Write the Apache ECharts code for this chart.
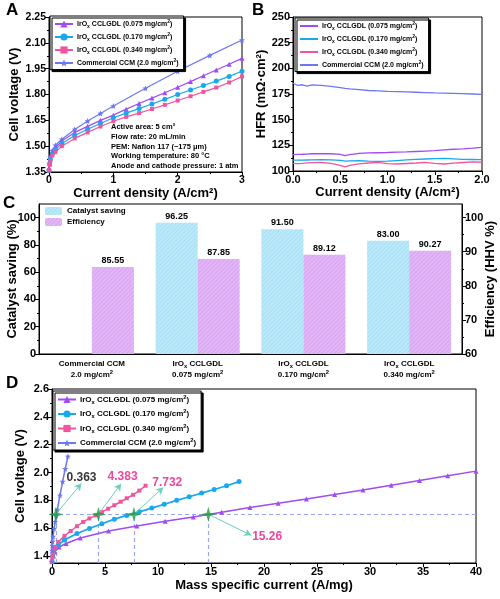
<!DOCTYPE html>
<html><head><meta charset="utf-8">
<script src="https://cdn.jsdelivr.net/npm/echarts@6/dist/echarts.min.js"></script>
<style>html,body{margin:0;padding:0;background:#fff}#c{width:500px;height:599px}</style>
</head><body><div id="c"></div>
<script>
// ---------- DATA ----------
// Panel A / D: polarization curves
const currentDensity = [0,0.01,0.02,0.05,0.1,0.2,0.4,0.6,0.8,1.0,1.2,1.4,1.6,1.8,2.0,2.2,2.4,2.6,2.8,3.0];
const voltage075 = [1.36,1.40,1.43,1.465,1.49,1.53,1.58,1.615,1.65,1.68,1.715,1.748,1.779,1.81,1.842,1.875,1.909,1.942,1.976,2.01];
const voltage170 = [1.36,1.40,1.425,1.455,1.48,1.515,1.562,1.598,1.632,1.665,1.692,1.718,1.745,1.772,1.80,1.826,1.852,1.878,1.905,1.935];
const voltage340 = [1.36,1.39,1.415,1.445,1.465,1.50,1.545,1.58,1.614,1.645,1.67,1.692,1.716,1.74,1.765,1.79,1.815,1.84,1.87,1.905];
const ccmCurrentDensity = [0,0.02,0.05,0.1,0.2,0.4,0.6,0.8,1.0,1.5,2.0,2.5,3.0];
const voltageCCM = [1.36,1.44,1.475,1.505,1.54,1.597,1.646,1.69,1.733,1.836,1.935,2.027,2.116];
const loadings = [0.075, 0.170, 0.340, 2.0];           // mg/cm2
const loadingText = ['0.075', '0.170', '0.340', '2.0'];

// Panel B: HFR
const hfrCurrentDensity = [0,0.05,0.1,0.15,0.2,0.3,0.4,0.5,0.55,0.6,0.7,0.8,0.9,1.0,1.1,1.2,1.3,1.4,1.5,1.6,1.7,1.8,1.9,2.0];
const hfr075 = [116,116.2,116.3,116.5,116.8,117,116.8,116.2,115,116,117.2,117.6,117.8,118,118.3,118.6,119,119.4,119.8,120.5,121.2,121.6,122.2,123];
const hfr170 = [110.5,110.6,110.6,110.7,110.8,111,110.8,110.4,109.6,109.8,110,109.6,109.3,109.6,110.2,110.8,111.3,111.7,112,112.2,111.8,111.4,111.2,111];
const hfr340 = [107.5,107.2,107.5,108,108.2,108.3,107.5,105.5,104,105.5,107,107.8,108.5,107.2,106.8,107.3,107.8,108.5,107.5,106.8,107.6,108.3,108.8,108.5];
const hfrCCM = [185.5,183.3,184,182.6,183.8,183.4,182.5,181.2,180.5,180,179.2,178.4,178,177.6,177.3,177,176.7,176.4,176.1,175.9,175.6,175.3,175,174.7];

// Panel C: bars
const categories = ['Commercial CCM\n2.0 mg/cm²', 'IrOx CCLGDL\n0.075 mg/cm²', 'IrOx CCLGDL\n0.170 mg/cm²', 'IrOx CCLGDL\n0.340 mg/cm²'];
const catalystSaving = [null, 96.25, 91.50, 83.00];
const efficiency = [85.55, 87.85, 89.12, 90.27];

// Panel D: annotations at 1.7 V
const refVoltage = 1.7;
const crossX = [0.363, 4.383, 7.732, 14.75];
const crossText = ['0.363', '4.383', '7.732', '15.26'];
const arrowEnds = [[2.77,1.921],[6.52,1.92],[10.49,1.892],[18.8,1.549]];
const textAnchors = [[2.78,1.962],[6.66,1.97],[10.87,1.928],[20.3,1.542]];

// ---------- STYLE ----------
const FF = '"Liberation Sans", Arial, Helvetica, sans-serif';
const BLK = '#000';
const colors = ['#A04CF0', '#17A8EE', '#F0559E', '#6A79F2'];
const STAR5 = 'path://M0,-10 L2.6,-3.5 L9.5,-3.1 L4.2,1.3 L5.9,8.1 L0,4.3 L-5.9,8.1 L-4.2,1.3 L-9.5,-3.1 L-2.6,-3.5 Z';
const STAR4 = 'path://M0,-10 L2.2,-2.2 L10,0 L2.2,2.2 L0,10 L-2.2,2.2 L-10,0 L-2.2,-2.2 Z';
const symbols = ['triangle', 'circle', 'rect', STAR5];
const annColors = ['#000', '#E8177F', '#E8177F', '#E8177F'];

function axis(o) {
  const base = {
    type: 'value',
    axisLine: {show: true, onZero: false, lineStyle: {color: BLK, width: 1}},
    axisTick: {show: true, length: 4, lineStyle: {color: BLK, width: 1}},
    minorTick: {show: true, splitNumber: 2, length: 2, lineStyle: {color: BLK, width: 1}},
    axisLabel: {color: BLK, fontSize: 11, fontWeight: 'bold', fontFamily: FF, margin: 3},
    splitLine: {show: false},
    nameLocation: 'middle',
    nameMoveOverlap: false,
    nameTextStyle: {color: BLK, fontSize: 13, fontWeight: 'bold', fontFamily: FF}
  };
  for (const k in o) {
    if (base[k] && typeof base[k] === 'object' && !Array.isArray(base[k]) && o[k] && typeof o[k] === 'object' && !Array.isArray(o[k])) base[k] = Object.assign({}, base[k], o[k]);
    else base[k] = o[k];
  }
  return base;
}
function rich(fs) {
  const s = Math.round(fs * 0.72 * 10) / 10;
  return {
    t: {fontSize: fs, fontWeight: 'bold', fontFamily: FF, color: BLK, lineHeight: fs + 3},
    s: {fontSize: s, fontWeight: 'bold', fontFamily: FF, color: BLK, verticalAlign: 'bottom', lineHeight: s},
    p: {fontSize: s, fontWeight: 'bold', fontFamily: FF, color: BLK, verticalAlign: 'top', lineHeight: s}
  };
}
function seriesLabel(i) {
  if (i < 3) return '{t|IrO}{s|x}{t| CCLGDL (' + loadingText[i] + ' mg/cm}{p|2}{t|)}';
  return '{t|Commercial CCM (' + loadingText[i] + ' mg/cm}{p|2}{t|)}';
}
function legendBox(prefix, left, top, fs, ih, gap, noSymbol) {
  return {
    data: [0,1,2,3].map(i => noSymbol ? {name: prefix + i, itemStyle: {opacity: 0}} : prefix + i),
    orient: 'vertical', left: left, top: top,
    itemWidth: 18, itemHeight: ih, itemGap: gap, padding: [3,5,3,4],
    backgroundColor: '#fff', borderColor: BLK, borderWidth: 1, borderRadius: 0,
    shadowColor: BLK, shadowBlur: 0, shadowOffsetX: 2, shadowOffsetY: 2,
    selectedMode: false,
    formatter: n => seriesLabel(+n.slice(1)),
    textStyle: {rich: rich(fs), padding: [0,0,0,-1]}
  };
}

const voltSets = [voltage075, voltage170, voltage340];
const hfrSets = [hfr075, hfr170, hfr340, hfrCCM];

const series = [];
// Panel A
for (let i = 0; i < 4; i++) {
  const xs = i < 3 ? currentDensity : ccmCurrentDensity;
  const ys = i < 3 ? voltSets[i] : voltageCCM;
  series.push({
    name: 'A' + i, type: 'line', xAxisIndex: 0, yAxisIndex: 0,
    data: xs.map((j, k) => [j, ys[k]]),
    symbol: symbols[i], symbolSize: i === 3 ? 6 : (i === 2 ? 4 : 5), showAllSymbol: true,
    lineStyle: {color: colors[i], width: 1.2}, itemStyle: {color: colors[i]}, z: i === 3 ? 2 : 3
  });
}
// Panel B
for (let i = 0; i < 4; i++) {
  series.push({
    name: 'B' + i, type: 'line', xAxisIndex: 1, yAxisIndex: 1,
    data: hfrCurrentDensity.map((j, k) => [j, hfrSets[i][k]]),
    symbol: 'none', lineStyle: {color: colors[i], width: 1.3}, itemStyle: {color: colors[i]}
  });
}
// Panel C
series.push({
  name: 'Catalyst saving', type: 'bar', xAxisIndex: 2, yAxisIndex: 2,
  data: catalystSaving.map(v => v == null ? '-' : v),
  barWidth: 42, barGap: '0%',
  itemStyle: {color: '#BCE9FA', decal: {symbol: 'rect', symbolSize: 1, dashArrayX: [1, 0], dashArrayY: [1, 2], rotation: -Math.PI / 4, color: 'rgba(150,215,240,0.55)'}},
  label: {show: true, position: 'top', distance: 2, color: BLK, fontSize: 9, fontWeight: 'bold', fontFamily: FF, formatter: p => (+p.value).toFixed(2)}
});
series.push({
  name: 'Efficiency', type: 'bar', xAxisIndex: 2, yAxisIndex: 3,
  data: efficiency,
  barWidth: 42, barGap: '0%',
  itemStyle: {color: '#E3B6F7', decal: {symbol: 'rect', symbolSize: 1, dashArrayX: [1, 0], dashArrayY: [1, 2], rotation: -Math.PI / 4, color: 'rgba(205,150,235,0.55)'}},
  label: {show: true, position: 'top', distance: 2, color: BLK, fontSize: 9, fontWeight: 'bold', fontFamily: FF, formatter: p => (+p.value).toFixed(2)}
});
// Panel D
for (let i = 0; i < 4; i++) {
  const xs = i < 3 ? currentDensity : ccmCurrentDensity;
  const ys = i < 3 ? voltSets[i] : voltageCCM;
  series.push({
    name: 'D' + i, type: 'line', xAxisIndex: 3, yAxisIndex: 4,
    data: xs.map((j, k) => [j / loadings[i], ys[k]]),
    symbol: symbols[i], symbolSize: i === 3 ? 6 : (i === 2 ? 4 : 5), showAllSymbol: true,
    lineStyle: {color: colors[i], width: i === 1 ? 1.8 : 1.5}, itemStyle: {color: colors[i]}, z: 3
  });
}
// dashed guide lines + green stars
const dashLines = [[{coord: [0, refVoltage]}, {coord: [40, refVoltage]}]]
  .concat(crossX.map(x => [{coord: [x, 1.35]}, {coord: [x, refVoltage]}]));
series.push({
  name: 'cross', type: 'scatter', xAxisIndex: 3, yAxisIndex: 4,
  data: crossX.map(x => [x, refVoltage]),
  symbol: STAR4, symbolSize: 15, itemStyle: {color: '#1A9C3A'}, z: 6, silent: true,
  markLine: {silent: true, symbol: ['none', 'none'], label: {show: false}, z: 1,
    lineStyle: {type: [4, 3], color: '#9AA6F2', width: 1.2}, data: dashLines}
});
series.push({
  name: 'notes', type: 'scatter', xAxisIndex: 3, yAxisIndex: 4,
  data: textAnchors.map((a, i) => ({value: a, label: {color: annColors[i]}})),
  symbolSize: 0.1, itemStyle: {color: 'transparent'}, z: 7, silent: true,
  label: {show: true, position: 'inside', fontSize: 12, fontWeight: 'bold', fontFamily: FF,
    formatter: p => crossText[p.dataIndex]},
  markLine: {silent: true, symbol: ['none', 'arrow'], symbolSize: [6, 7], label: {show: false}, z: 5,
    lineStyle: {type: 'solid', color: '#6DCFBE', width: 1},
    data: crossX.map((x, i) => [{coord: [x, refVoltage]}, {coord: arrowEnds[i]}])}
});

const gridBase = {show: true, borderColor: BLK, borderWidth: 1, containLabel: false, outerBoundsMode: 'none'};
const option = {
  animation: false,
  backgroundColor: '#fff',
  textStyle: {fontFamily: FF},
  grid: [
    Object.assign({left: 49, top: 17, width: 193, height: 155}, gridBase),
    Object.assign({left: 293, top: 17, width: 189, height: 154}, gridBase),
    Object.assign({left: 39, top: 204, width: 423, height: 150}, gridBase),
    Object.assign({left: 52, top: 389, width: 424, height: 174}, gridBase)
  ],
  xAxis: [
    axis({gridIndex: 0, min: 0, max: 3, interval: 1, name: 'Current density (A/cm²)', nameGap: 15,
      axisLabel: {fontSize: 10.5}}),
    axis({gridIndex: 1, min: 0, max: 2, interval: 0.5, name: 'Current density (A/cm²)', nameGap: 15,
      axisLabel: {formatter: v => v.toFixed(1)}}),
    axis({gridIndex: 2, type: 'category', data: categories, axisTick: {show: false}, minorTick: {show: false},
      axisLabel: {interval: 0, margin: 4, rich: rich(8),
        formatter: v => {
          const [l1, l2] = v.split('\n');
          const a = l1.indexOf('IrOx') === 0 ? '{t|IrO}{s|x}{t|' + l1.slice(4) + '}' : '{t|' + l1 + '}';
          return a + '\n{t|' + l2.replace('²', '') + '}{p|2}';
        }}}),
    axis({gridIndex: 3, min: 0, max: 40, interval: 5, name: 'Mass specific current (A/mg)', nameGap: 16})
  ],
  yAxis: [
    axis({gridIndex: 0, min: 1.35, max: 2.25, interval: 0.15, name: 'Cell voltage (V)', nameGap: 28,
      axisLabel: {fontSize: 10.5, formatter: v => v.toFixed(2)}}),
    axis({gridIndex: 1, min: 100, max: 250, interval: 25, name: 'HFR (mΩ·cm²)', nameGap: 25}),
    axis({gridIndex: 2, min: 0, max: 110, position: 'left', name: 'Catalyst saving (%)', nameGap: 20, minorTick: {show: false},
      axisLabel: {customValues: [0, 20, 40, 60, 80, 100]}, axisTick: {customValues: [0, 20, 40, 60, 80, 100]}}),
    axis({gridIndex: 2, min: 60, max: 104, position: 'right', name: 'Efficiency (HHV %)', nameGap: 22, nameRotate: 90, minorTick: {show: false},
      axisLabel: {customValues: [60, 70, 80, 90, 100]}, axisTick: {customValues: [60, 70, 80, 90, 100]}}),
    axis({gridIndex: 3, min: 1.35, max: 2.6, position: 'left', name: 'Cell voltage (V)', nameGap: 25, minorTick: {show: false},
      axisLabel: {customValues: [1.4, 1.6, 1.8, 2.0, 2.2, 2.4, 2.6], formatter: v => v.toFixed(1)},
      axisTick: {customValues: [1.4, 1.6, 1.8, 2.0, 2.2, 2.4, 2.6]}}),
    // minor tick overlays
    axis({gridIndex: 3, min: 1.35, max: 2.6, position: 'left', offset: 0, axisLine: {show: false}, axisLabel: {show: false}, minorTick: {show: false},
      axisTick: {length: 2, customValues: [1.5, 1.7, 1.9, 2.1, 2.3, 2.5]}}),
    axis({gridIndex: 2, min: 0, max: 110, position: 'left', offset: 0, axisLine: {show: false}, axisLabel: {show: false}, minorTick: {show: false},
      axisTick: {length: 2, customValues: [10, 30, 50, 70, 90]}}),
    axis({gridIndex: 2, min: 60, max: 104, position: 'right', offset: 0, axisLine: {show: false}, axisLabel: {show: false}, minorTick: {show: false},
      axisTick: {length: 2, customValues: [65, 75, 85, 95]}})
  ],
  legend: [
    legendBox('A', 50, 16, 7, 9, 3, false),
    legendBox('B', 295, 18, 7, 9, 3, true),
    {
      data: ['Catalyst saving', 'Efficiency'], orient: 'vertical', left: 45, top: 207,
      itemWidth: 17, itemHeight: 8, itemGap: 3, padding: 0, selectedMode: false,
      textStyle: {color: BLK, fontSize: 8, fontWeight: 'bold', fontFamily: FF}
    },
    legendBox('D', 53, 391, 8, 9, 3.5, false)
  ],
  graphic: [
    {type: 'text', left: 6, top: 2, style: {text: 'A', fontSize: 17, fontWeight: 'bold', fontFamily: FF, fill: BLK}},
    {type: 'text', left: 252, top: 2, style: {text: 'B', fontSize: 17, fontWeight: 'bold', fontFamily: FF, fill: BLK}},
    {type: 'text', left: 3, top: 195, style: {text: 'C', fontSize: 17, fontWeight: 'bold', fontFamily: FF, fill: BLK}},
    {type: 'text', left: 6, top: 375, style: {text: 'D', fontSize: 17, fontWeight: 'bold', fontFamily: FF, fill: BLK}},
    {type: 'text', left: 111, top: 122, style: {
      text: 'Active area: 5 cm²\nFlow rate: 20 mL/min\nPEM: Nafion 117 (~175 μm)\nWorking temperature: 80 °C\nAnode and cathode pressure: 1 atm',
      fontSize: 7.5, fontWeight: 'bold', fontFamily: FF, fill: BLK, lineHeight: 9.8}}
  ],
  series: series
};
const chart = echarts.init(document.getElementById('c'));
chart.setOption(option);
</script>
</body></html>
